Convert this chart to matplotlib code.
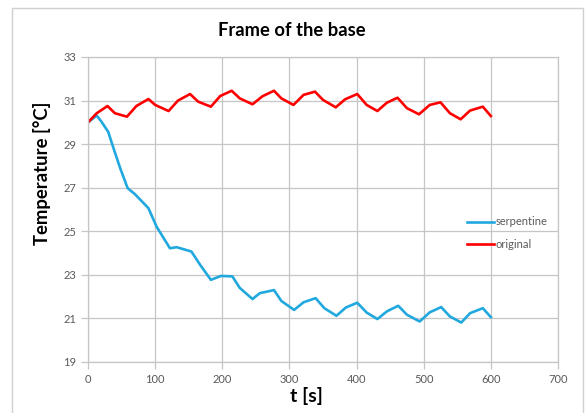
import matplotlib.pyplot as plt
import matplotlib.patches as mpatches

# time [s] and temperature [°C]
t_serp = [0, 13, 20, 30, 38, 48, 59, 70, 90, 102, 122, 132, 154, 167, 183, 198,
          215, 226, 245, 256, 277, 288, 307, 321, 339, 352, 370, 384, 401, 415,
          431, 445, 462, 475, 494, 509, 526, 539, 556, 569, 588, 600]
temp_serp = [30.0, 30.31, 30.03, 29.57, 28.81, 27.89, 26.98, 26.70, 26.06, 25.22,
             24.22, 24.27, 24.07, 23.46, 22.77, 22.95, 22.93, 22.40, 21.89, 22.16,
             22.30, 21.80, 21.39, 21.74, 21.93, 21.47, 21.12, 21.50, 21.72, 21.27,
             20.97, 21.32, 21.58, 21.17, 20.86, 21.28, 21.52, 21.09, 20.81, 21.24,
             21.47, 21.06]

t_orig = [0, 13, 29, 40, 58, 72, 90, 100, 120, 134, 152, 164, 183, 197, 214, 226,
          245, 260, 277, 288, 306, 321, 338, 350, 369, 383, 401, 415, 431, 445,
          461, 475, 493, 509, 525, 539, 555, 569, 588, 600]
temp_orig = [30.0, 30.42, 30.75, 30.42, 30.26, 30.75, 31.07, 30.80, 30.52, 31.00,
             31.30, 30.95, 30.72, 31.21, 31.45, 31.10, 30.83, 31.20, 31.45, 31.10,
             30.80, 31.26, 31.41, 31.03, 30.69, 31.06, 31.30, 30.80, 30.52, 30.90,
             31.13, 30.65, 30.37, 30.80, 30.92, 30.42, 30.14, 30.54, 30.72, 30.29]

x_ticks = [0, 100, 200, 300, 400, 500, 600, 700]
y_ticks = [19, 21, 23, 25, 27, 29, 31, 33]

FONT = ["Lato", "DejaVu Sans"]
GRID = "#c6c6c6"
LABEL = "#595959"

fig = plt.figure(figsize=(5.86, 4.13), dpi=100)
ax = fig.add_axes([0.1502, 0.1235, 0.802, 0.7385])

# light outer chart frame
fig.patches.append(mpatches.Rectangle(
    (12 / 586, -0.02), 571 / 586, 1 - 8 / 413 + 0.02, transform=fig.transFigure,
    fill=False, edgecolor="#d0d0d0", linewidth=1.0))

ax.plot(t_serp, temp_serp, color="#21a8de", lw=1.9, solid_joinstyle="round",
        label="serpentine")
ax.plot(t_orig, temp_orig, color="#ff0000", lw=1.9, solid_joinstyle="round",
        label="original")

ax.set_xlim(0, 700)
ax.set_ylim(19, 33)
ax.set_xticks(x_ticks)
ax.set_yticks(y_ticks)
ax.grid(True, color=GRID, lw=0.9)
ax.set_axisbelow(True)
for s in ax.spines.values():
    s.set_color(GRID)
    s.set_linewidth(0.9)
ax.tick_params(colors=GRID, labelcolor=LABEL, labelsize=8, length=5, width=0.9)
for lab in ax.get_xticklabels() + ax.get_yticklabels():
    lab.set_family(FONT)

fig.text(292 / 586, 1 - 30 / 413, "Frame of the base", ha="center", va="center",
         fontsize=13.2, fontweight="bold", family=FONT)
fig.text(42 / 586, 1 - 173 / 413, "Temperature [°C]", ha="center", va="center",
         rotation=90, fontsize=13.3, fontweight="bold", family=FONT)
fig.text(306 / 586, 1 - 396 / 413, "t [s]", ha="center", va="center",
         fontsize=14, fontweight="bold", family=FONT)

ax.legend(loc="upper left", bbox_to_anchor=(0.785, 0.51), frameon=False,
          handlelength=2.4, handletextpad=0.15, labelspacing=1.0,
          prop={"family": FONT, "size": 8}, labelcolor=LABEL)

fig.savefig("out.png", dpi=100)
